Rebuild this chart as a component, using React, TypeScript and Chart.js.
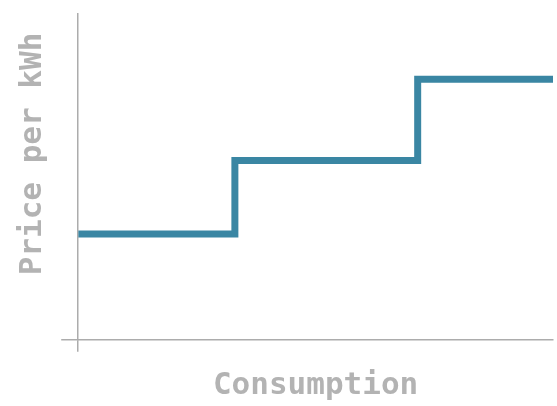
import React, { useEffect, useRef } from "react";
import { Chart, registerables } from "chart.js";

Chart.register(...registerables);

const consumption = [0, 33, 71.5, 100];
const price = [13, 22, 32, 32];
const xTitle = "Consumption";
const yTitle = "Price per kWh ";

const AXIS = "#acacac";
const TEXT = "#b3b3b3";
const LINE = "#3a86a3";

export default function App() {
  const ref = useRef<HTMLCanvasElement | null>(null);
  useEffect(() => {
    if (!ref.current) return;
    const chart = new Chart(ref.current, {
      type: "line",
      data: {
        datasets: [
          {
            data: consumption.map((x, i) => ({ x, y: price[i] })),
            borderColor: LINE,
            borderWidth: 7,
            stepped: "before",
            pointRadius: 0,
            borderJoinStyle: "miter",
            fill: false,
          },
        ],
      },
      options: {
        animation: false,
        responsive: true,
        maintainAspectRatio: false,
        layout: { padding: { top: 14, right: 4, left: 0, bottom: 0 } },
        plugins: { legend: { display: false }, tooltip: { enabled: false } },
        scales: {
          x: {
            type: "linear",
            min: 0,
            max: 100,
            afterBuildTicks: (s: any) => {
              s.ticks = [{ value: 0 }];
            },
            ticks: { display: false },
            grid: {
              drawOnChartArea: false,
              drawTicks: true,
              tickLength: 12,
              color: AXIS,
              lineWidth: 1.5,
            },
            border: { display: true, color: AXIS, width: 1.5 },
            title: {
              display: true,
              text: xTitle,
              color: TEXT,
              font: { family: "'DejaVu Sans Mono', monospace", size: 31, weight: "bold", lineHeight: 1.2 },
              padding: { top: 16, bottom: 1 },
            },
          },
          y: {
            type: "linear",
            min: 0,
            max: 40,
            afterBuildTicks: (s: any) => {
              s.ticks = [{ value: 0 }];
            },
            ticks: { display: false },
            grid: {
              drawOnChartArea: false,
              drawTicks: true,
              tickLength: 17,
              color: AXIS,
              lineWidth: 1.5,
            },
            border: { display: true, color: AXIS, width: 1.5 },
            title: {
              display: true,
              text: yTitle,
              align: "end",
              color: TEXT,
              font: { family: "'DejaVu Sans Mono', monospace", size: 31, weight: "bold", lineHeight: 1.2 },
              padding: { top: 14, bottom: 10 },
            },
          },
        },
      },
    });
    return () => chart.destroy();
  }, []);
  return (
    <div style={{ position: "fixed", left: 0, top: 0, width: 557, height: 406, background: "#fff" }}>
      <canvas ref={ref} />
    </div>
  );
}
